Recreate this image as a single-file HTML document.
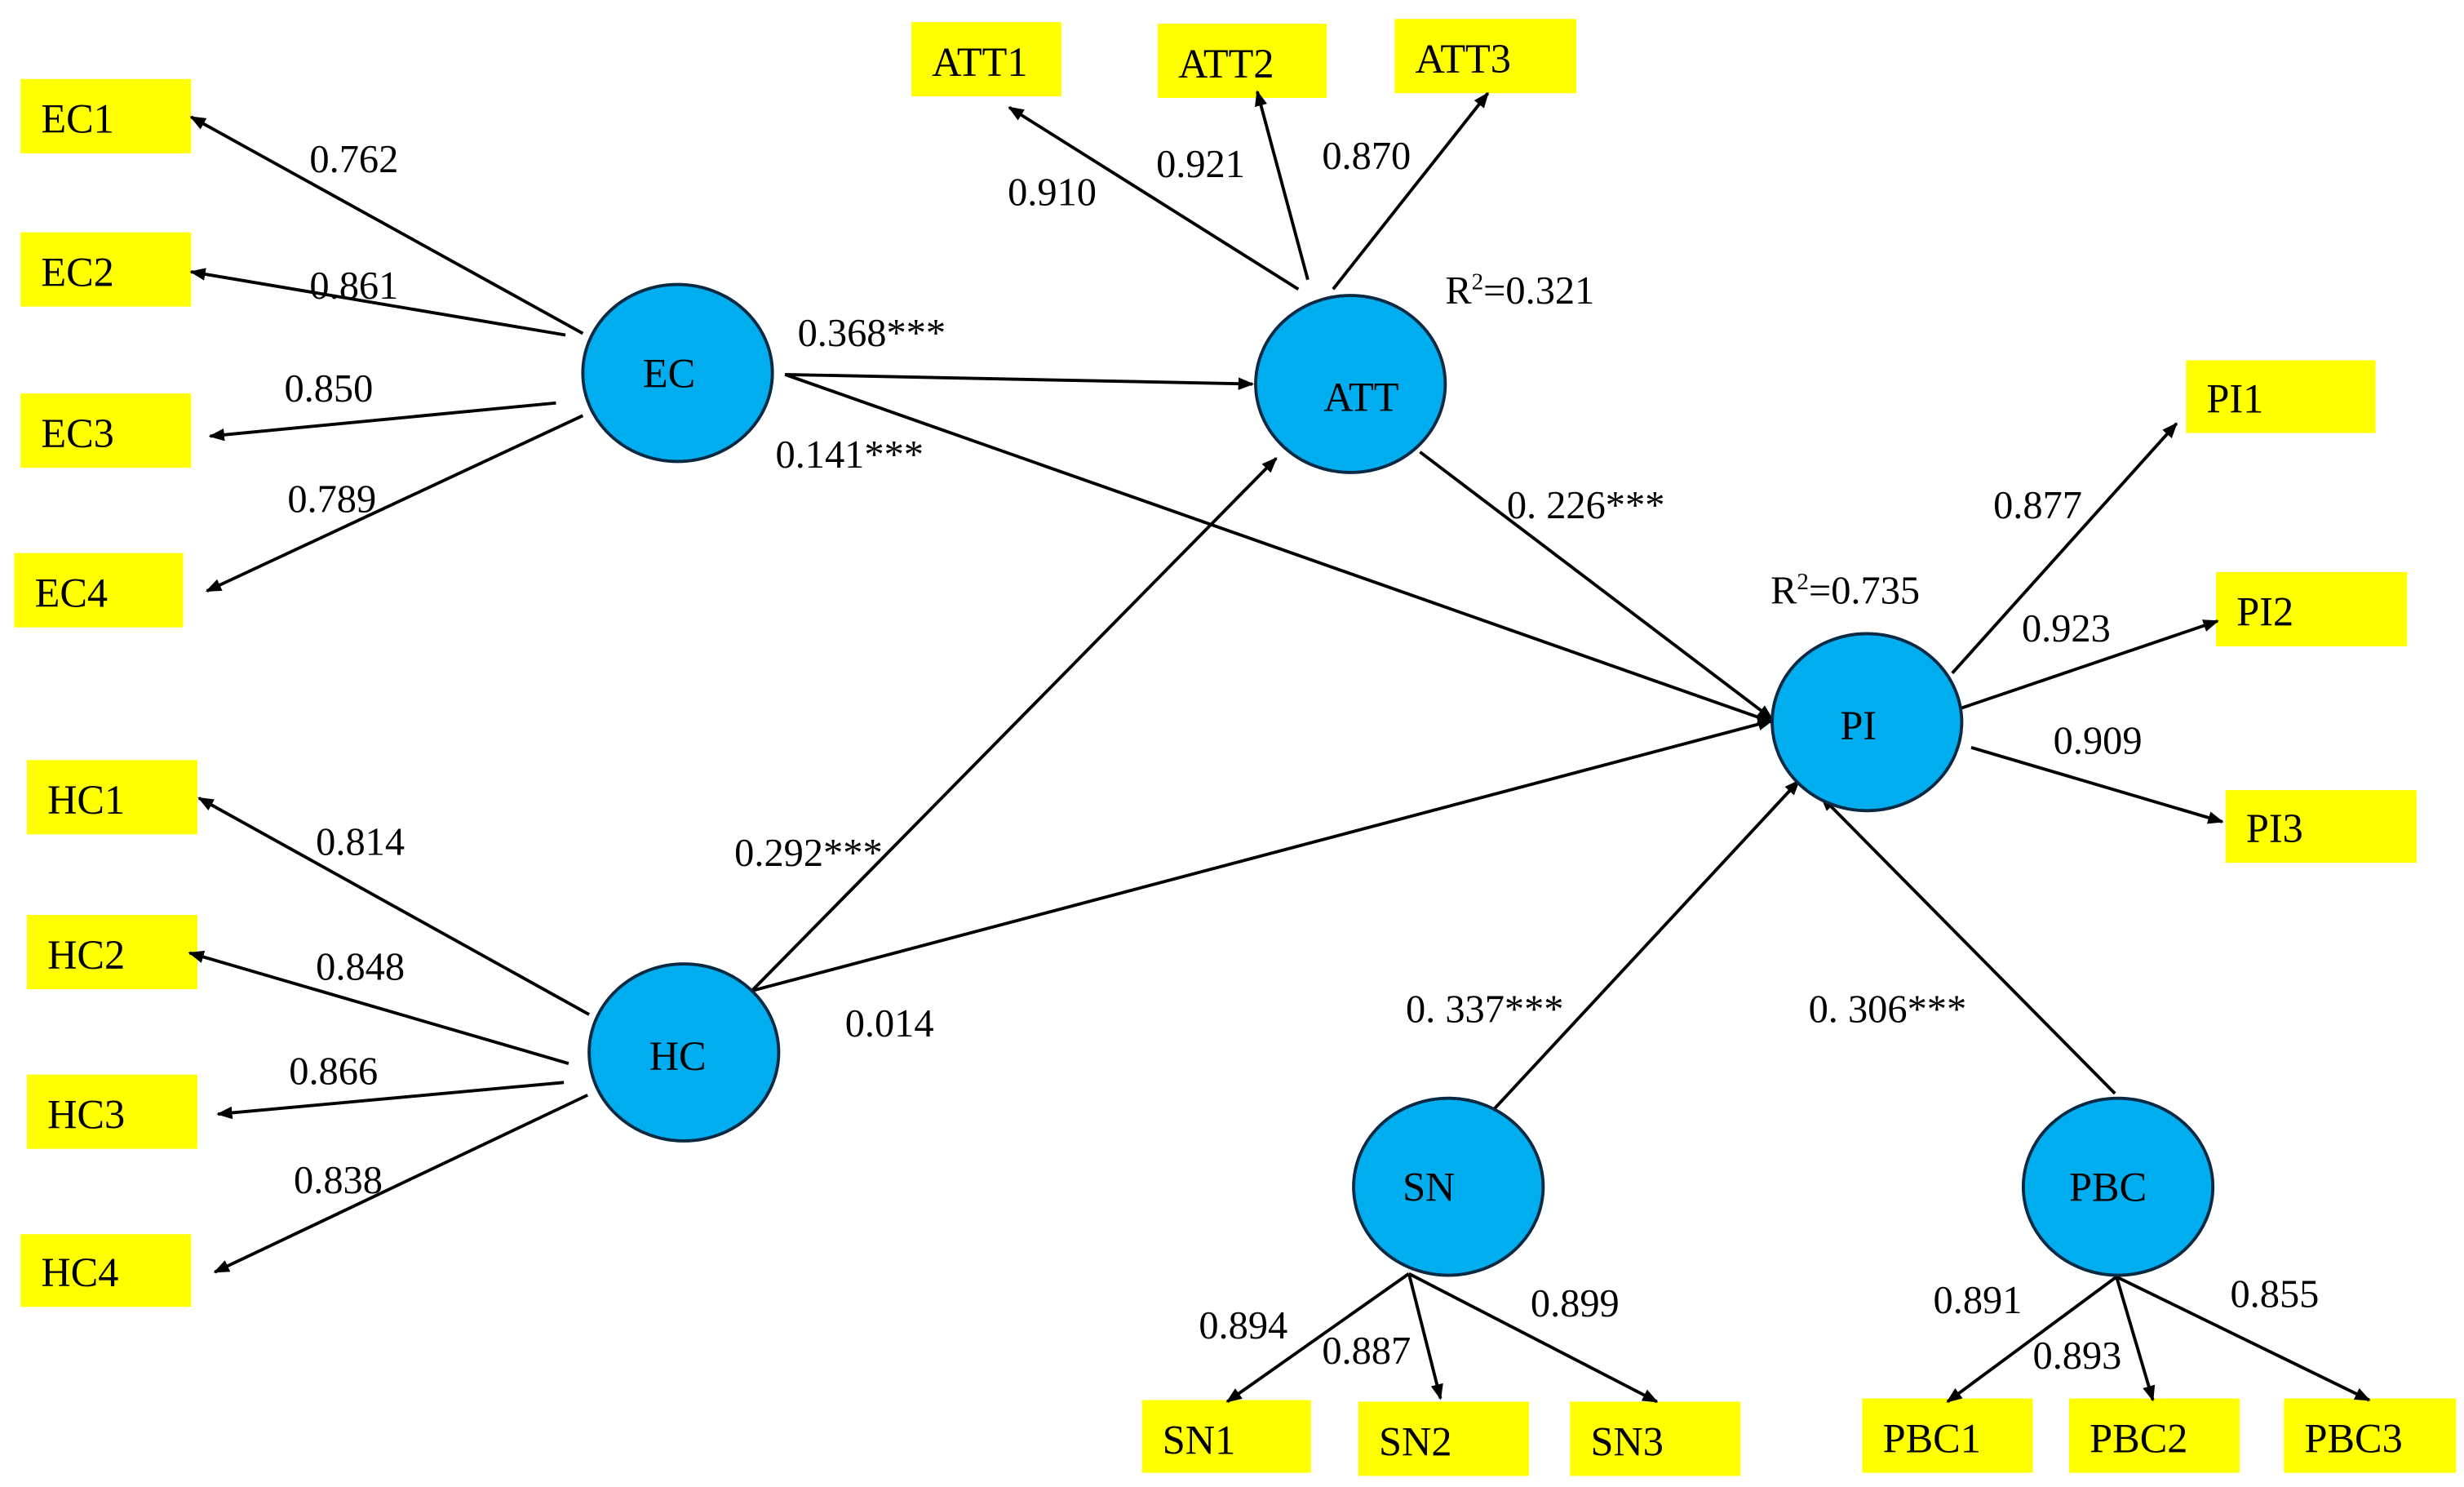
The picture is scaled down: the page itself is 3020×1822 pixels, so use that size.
<!DOCTYPE html>
<html><head><meta charset="utf-8"><style>html,body{margin:0;padding:0;background:#fff}svg{display:block}text{font-family:"Liberation Serif",serif;fill:#000}</style></head>
<body>
<svg width="3020" height="1822" viewBox="0 0 1560 941" preserveAspectRatio="none" xmlns="http://www.w3.org/2000/svg">
<defs><marker id="a" markerWidth="10" markerHeight="8" refX="9" refY="4" orient="auto" markerUnits="userSpaceOnUse"><path d="M0,0 L10,4 L0,8 Z" fill="#000"/></marker></defs>
<g fill="#ffff00">
<rect x="13" y="50" width="108" height="47"/><rect x="13" y="147" width="108" height="47"/><rect x="13" y="249" width="108" height="47"/><rect x="9" y="350" width="107" height="47"/>
<rect x="577" y="14" width="95" height="47"/><rect x="733" y="15" width="107" height="47"/><rect x="883" y="12" width="115" height="47"/>
<rect x="1384" y="228" width="120" height="46"/><rect x="1403" y="362" width="121" height="47"/><rect x="1409" y="500" width="121" height="46"/>
<rect x="17" y="481" width="108" height="47"/><rect x="17" y="579" width="108" height="47"/><rect x="17" y="680" width="108" height="47"/><rect x="13" y="781" width="108" height="46"/>
<rect x="723" y="886" width="107" height="46"/><rect x="860" y="887" width="108" height="47"/><rect x="994" y="887" width="108" height="47"/>
<rect x="1179" y="885" width="108" height="47"/><rect x="1310" y="885" width="108" height="47"/><rect x="1446" y="885" width="109" height="47"/>
</g>
<g stroke="#000" stroke-width="2" marker-end="url(#a)">
<line x1="369" y1="211" x2="121" y2="74"/><line x1="358" y1="212" x2="121" y2="172"/><line x1="352" y1="255" x2="133" y2="276"/><line x1="369" y1="263" x2="131" y2="374"/>
<line x1="497" y1="237" x2="793" y2="243"/><line x1="497" y1="237" x2="1122" y2="457"/>
<line x1="822" y1="183" x2="639" y2="68"/><line x1="828" y1="177" x2="796" y2="58"/><line x1="844" y1="183" x2="942" y2="59"/>
<line x1="899" y1="286" x2="1122" y2="455"/>
<line x1="373" y1="642" x2="126" y2="505"/><line x1="360" y1="673" x2="120" y2="603"/><line x1="357" y1="685" x2="138" y2="705"/><line x1="372" y1="693" x2="136" y2="805"/>
<line x1="476" y1="627" x2="808" y2="290"/><line x1="476" y1="627" x2="1122" y2="456"/>
<line x1="1236" y1="426" x2="1378" y2="268"/><line x1="1242" y1="448" x2="1404" y2="393"/><line x1="1248" y1="473" x2="1407" y2="520"/>
<line x1="943" y1="705" x2="1139" y2="494"/><line x1="1339" y1="692" x2="1153" y2="504"/>
<line x1="892" y1="806" x2="777" y2="887"/><line x1="892" y1="806" x2="912" y2="885"/><line x1="892" y1="806" x2="1049" y2="887"/>
<line x1="1340" y1="808" x2="1233" y2="887"/><line x1="1340" y1="808" x2="1363" y2="886"/><line x1="1340" y1="808" x2="1500" y2="886"/>
</g>
<g fill="#00aeef" stroke="#0a2a44" stroke-width="2">
<ellipse cx="429" cy="236" rx="60" ry="56"/><ellipse cx="855" cy="243" rx="60" ry="56"/><ellipse cx="1182" cy="457" rx="60" ry="56"/>
<ellipse cx="433" cy="666" rx="60" ry="56"/><ellipse cx="917" cy="751" rx="60" ry="56"/><ellipse cx="1341" cy="751" rx="60" ry="56"/>
</g>
<g font-size="26">
<text x="26" y="84">EC1</text><text x="26" y="181">EC2</text><text x="26" y="283">EC3</text><text x="22" y="384">EC4</text>
<text x="590" y="48">ATT1</text><text x="746" y="49">ATT2</text><text x="896" y="46">ATT3</text>
<text x="1397" y="261">PI1</text><text x="1416" y="396">PI2</text><text x="1422" y="533">PI3</text>
<text x="30" y="515">HC1</text><text x="30" y="613">HC2</text><text x="30" y="714">HC3</text><text x="26" y="814">HC4</text>
<text x="736" y="920">SN1</text><text x="873" y="921">SN2</text><text x="1007" y="921">SN3</text>
<text x="1192" y="919">PBC1</text><text x="1323" y="919">PBC2</text><text x="1459" y="919">PBC3</text>
<text x="407" y="245">EC</text><text x="838" y="260">ATT</text><text x="1165" y="468">PI</text><text x="411" y="677">HC</text><text x="888" y="760">SN</text><text x="1310" y="760">PBC</text>
</g>
<g font-size="25">
<text x="196" y="109">0.762</text><text x="196" y="189">0.861</text><text x="180" y="254">0.850</text><text x="182" y="324">0.789</text>
<text x="505" y="219">0.368***</text><text x="491" y="296">0.141***</text>
<text x="638" y="130">0.910</text><text x="732" y="112">0.921</text><text x="837" y="107">0.870</text>
<text x="915" y="192">R<tspan font-size="15" dy="-9">2</tspan><tspan dy="9">=0.321</tspan></text>
<text x="954" y="328">0. 226***</text>
<text x="1121" y="382">R<tspan font-size="15" dy="-9">2</tspan><tspan dy="9">=0.735</tspan></text>
<text x="1262" y="328">0.877</text><text x="1280" y="406">0.923</text><text x="1300" y="477">0.909</text>
<text x="200" y="541">0.814</text><text x="200" y="620">0.848</text><text x="183" y="686">0.866</text><text x="186" y="755">0.838</text>
<text x="465" y="548">0.292***</text><text x="535" y="656">0.014</text>
<text x="890" y="647">0. 337***</text><text x="1145" y="647">0. 306***</text>
<text x="759" y="847">0.894</text><text x="837" y="863">0.887</text><text x="969" y="833">0.899</text>
<text x="1224" y="831">0.891</text><text x="1287" y="866">0.893</text><text x="1412" y="827">0.855</text>
</g>
</svg>
</body></html>
